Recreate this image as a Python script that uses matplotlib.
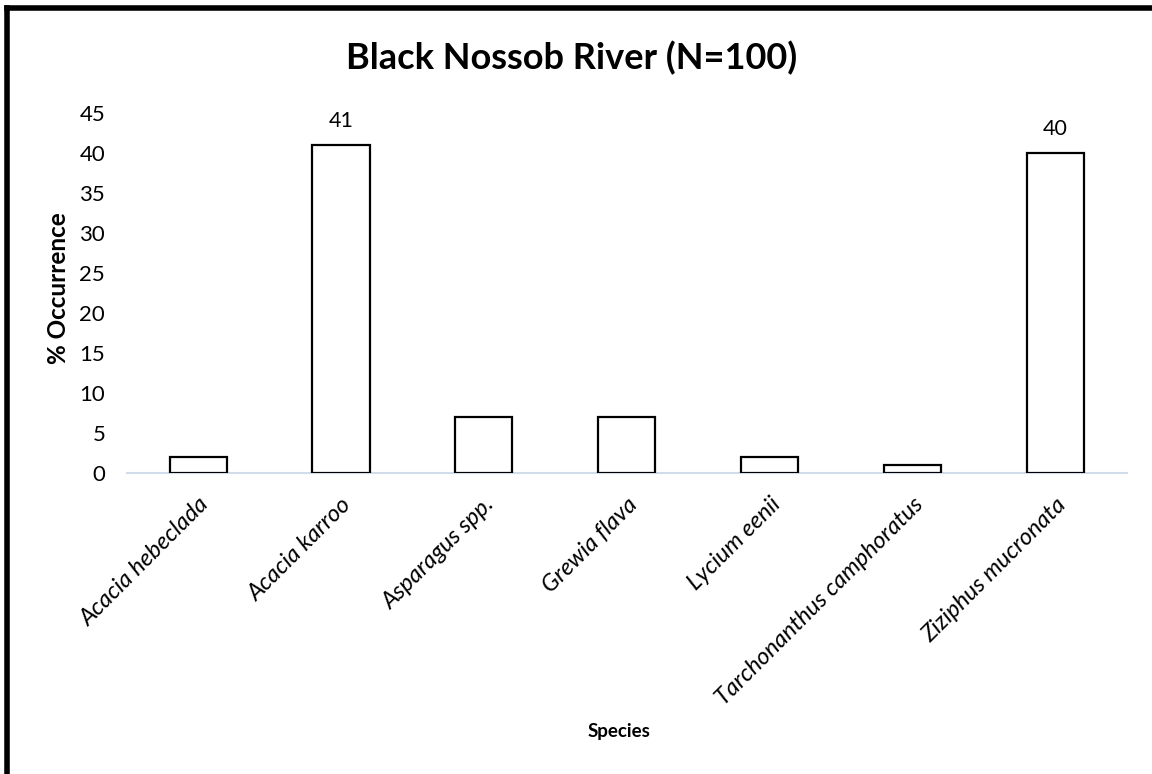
import matplotlib.pyplot as plt
from matplotlib.lines import Line2D
import numpy as np

plt.rcParams['font.family'] = ['Lato', 'DejaVu Sans']

species = ['Acacia hebeclada', 'Acacia karroo', 'Asparagus spp.', 'Grewia flava',
           'Lycium eenii', 'Tarchonanthus camphoratus', 'Ziziphus mucronata']
occurrence = [2, 41, 7, 7, 2, 1, 40]
labelled = [41, 40]  # only the two dominant species get a value label

fig = plt.figure(figsize=(11.52, 7.74), dpi=100)
ax = fig.add_axes([0.110, 0.389, 0.868, 0.465])

x = np.arange(len(species))
bars = ax.bar(x, occurrence, width=0.4, color='white', edgecolor='black', linewidth=1.6, zorder=3)

for b, v in zip(bars, occurrence):
    if v in labelled:
        ax.text(b.get_x() + b.get_width() / 2, v + 1.7, f'{v}', ha='center', va='bottom', fontsize=15.5)

ax.set_xlim(-0.5, len(species) - 0.5)
ax.set_ylim(0, 45)
ax.set_yticks(range(0, 46, 5))
ax.tick_params(axis='y', length=0, labelsize=16, pad=15.5)
ax.tick_params(axis='x', length=0, pad=15)
ax.set_xticks(x)
ax.set_xticklabels(species, rotation=45, ha='right', rotation_mode='anchor',
                   fontstyle='italic', fontsize=17)

for side in ['top', 'right', 'left']:
    ax.spines[side].set_visible(False)
ax.spines['bottom'].set_color('#d0dcea')
ax.spines['bottom'].set_linewidth(1.5)

ax.set_ylabel('% Occurrence', fontsize=17.5, fontweight='bold')
ax.yaxis.set_label_coords(-0.057, 0.514)
fig.text(0.537, 0.055, 'Species', ha='center', va='center', fontsize=13.5, fontweight='bold')
fig.text(0.496, 0.925, 'Black Nossob River (N=100)', ha='center', va='center',
         fontsize=26, fontweight='bold')

# frame along the top and left edges
fig.add_artist(Line2D([0.006, 1.0], [0.990, 0.990], color='black', linewidth=4, transform=fig.transFigure))
fig.add_artist(Line2D([0.006, 0.006], [0.0, 0.990], color='black', linewidth=4, transform=fig.transFigure))

fig.savefig('out.png', dpi=100, facecolor='white')
